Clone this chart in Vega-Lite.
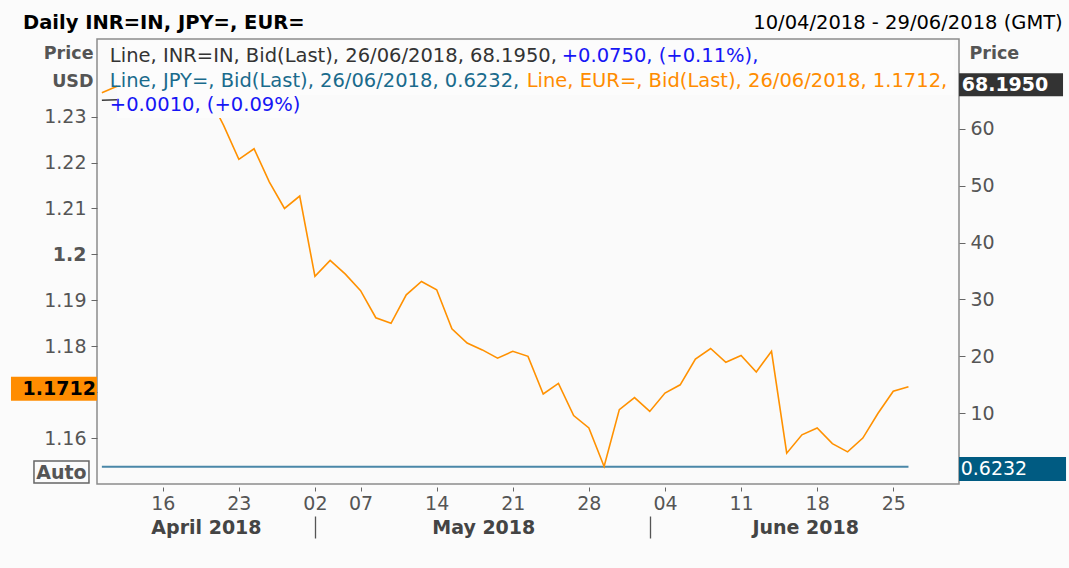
{
 "$schema": "https://vega.github.io/schema/vega-lite/v6.json",
 "width": 862,
 "height": 445,
 "autosize": {"type": "none"},
 "padding": {"left": 97, "top": 39, "right": 110, "bottom": 84},
 "background": "#fbfbfb",
 "config": {
  "font": "DejaVu Sans",
  "view": {"stroke": "#8c8c8c", "strokeWidth": 1.5, "fill": "#fafafa"},
  "axis": {"grid": false, "labelFont": "DejaVu Sans", "titleFont": "DejaVu Sans"}
 },
 "data": {"values": [
  {"date": "2018-04-10", "EUR": 1.2352, "INR": 65.02, "JPY": 0.6218},
  {"date": "2018-04-11", "EUR": 1.2366, "INR": 65.10, "JPY": 0.6225},
  {"date": "2018-04-12", "EUR": 1.2328, "INR": 65.15, "JPY": 0.6221},
  {"date": "2018-04-13", "EUR": 1.2330, "INR": 65.11, "JPY": 0.6219},
  {"date": "2018-04-16", "EUR": 1.2380, "INR": 65.40, "JPY": 0.6228},
  {"date": "2018-04-17", "EUR": 1.2370, "INR": 65.60, "JPY": 0.6230},
  {"date": "2018-04-18", "EUR": 1.2372, "INR": 65.75, "JPY": 0.6226},
  {"date": "2018-04-19", "EUR": 1.2346, "INR": 65.90, "JPY": 0.6222},
  {"date": "2018-04-20", "EUR": 1.2281, "INR": 66.10, "JPY": 0.6214},
  {"date": "2018-04-23", "EUR": 1.2207, "INR": 66.30, "JPY": 0.6205},
  {"date": "2018-04-24", "EUR": 1.2230, "INR": 66.40, "JPY": 0.6208},
  {"date": "2018-04-25", "EUR": 1.2158, "INR": 66.55, "JPY": 0.6199},
  {"date": "2018-04-26", "EUR": 1.2100, "INR": 66.70, "JPY": 0.6192},
  {"date": "2018-04-27", "EUR": 1.2127, "INR": 66.60, "JPY": 0.6197},
  {"date": "2018-05-02", "EUR": 1.1952, "INR": 66.75, "JPY": 0.6180},
  {"date": "2018-05-03", "EUR": 1.1987, "INR": 66.80, "JPY": 0.6186},
  {"date": "2018-05-04", "EUR": 1.1957, "INR": 66.85, "JPY": 0.6182},
  {"date": "2018-05-07", "EUR": 1.1921, "INR": 67.00, "JPY": 0.6177},
  {"date": "2018-05-08", "EUR": 1.1862, "INR": 67.20, "JPY": 0.6170},
  {"date": "2018-05-09", "EUR": 1.1850, "INR": 67.40, "JPY": 0.6168},
  {"date": "2018-05-10", "EUR": 1.1912, "INR": 67.45, "JPY": 0.6175},
  {"date": "2018-05-11", "EUR": 1.1941, "INR": 67.35, "JPY": 0.6179},
  {"date": "2018-05-14", "EUR": 1.1923, "INR": 67.60, "JPY": 0.6176},
  {"date": "2018-05-15", "EUR": 1.1838, "INR": 67.95, "JPY": 0.6166},
  {"date": "2018-05-16", "EUR": 1.1807, "INR": 68.10, "JPY": 0.6162},
  {"date": "2018-05-17", "EUR": 1.1792, "INR": 68.05, "JPY": 0.6160},
  {"date": "2018-05-18", "EUR": 1.1774, "INR": 68.00, "JPY": 0.6158},
  {"date": "2018-05-21", "EUR": 1.1789, "INR": 68.25, "JPY": 0.6160},
  {"date": "2018-05-22", "EUR": 1.1778, "INR": 68.20, "JPY": 0.6159},
  {"date": "2018-05-23", "EUR": 1.1696, "INR": 68.35, "JPY": 0.6150},
  {"date": "2018-05-24", "EUR": 1.1719, "INR": 68.10, "JPY": 0.6153},
  {"date": "2018-05-25", "EUR": 1.1649, "INR": 67.80, "JPY": 0.6145},
  {"date": "2018-05-28", "EUR": 1.1622, "INR": 67.55, "JPY": 0.6142},
  {"date": "2018-05-29", "EUR": 1.1538, "INR": 67.40, "JPY": 0.6133},
  {"date": "2018-05-30", "EUR": 1.1662, "INR": 67.40, "JPY": 0.6147},
  {"date": "2018-05-31", "EUR": 1.1688, "INR": 67.45, "JPY": 0.6150},
  {"date": "2018-06-01", "EUR": 1.1658, "INR": 67.10, "JPY": 0.6146},
  {"date": "2018-06-04", "EUR": 1.1698, "INR": 67.15, "JPY": 0.6151},
  {"date": "2018-06-05", "EUR": 1.1716, "INR": 67.20, "JPY": 0.6153},
  {"date": "2018-06-06", "EUR": 1.1772, "INR": 66.95, "JPY": 0.6160},
  {"date": "2018-06-07", "EUR": 1.1795, "INR": 67.10, "JPY": 0.6163},
  {"date": "2018-06-08", "EUR": 1.1765, "INR": 67.45, "JPY": 0.6159},
  {"date": "2018-06-11", "EUR": 1.1780, "INR": 67.55, "JPY": 0.6161},
  {"date": "2018-06-12", "EUR": 1.1744, "INR": 67.60, "JPY": 0.6157},
  {"date": "2018-06-13", "EUR": 1.1789, "INR": 67.85, "JPY": 0.6162},
  {"date": "2018-06-14", "EUR": 1.1567, "INR": 67.95, "JPY": 0.6186},
  {"date": "2018-06-15", "EUR": 1.1607, "INR": 68.05, "JPY": 0.6201},
  {"date": "2018-06-18", "EUR": 1.1622, "INR": 68.15, "JPY": 0.6209},
  {"date": "2018-06-19", "EUR": 1.1588, "INR": 68.35, "JPY": 0.6215},
  {"date": "2018-06-20", "EUR": 1.1570, "INR": 68.50, "JPY": 0.6212},
  {"date": "2018-06-21", "EUR": 1.1600, "INR": 68.30, "JPY": 0.6218},
  {"date": "2018-06-22", "EUR": 1.1654, "INR": 67.90, "JPY": 0.6224},
  {"date": "2018-06-25", "EUR": 1.1702, "INR": 68.12, "JPY": 0.6226},
  {"date": "2018-06-26", "EUR": 1.1712, "INR": 68.195, "JPY": 0.6232}
 ]},
 "layer": [
  {
   "layer": [
    {
     "mark": {"type": "line", "color": "#4a87a8", "strokeWidth": 2},
     "encoding": {
      "x": {"field": "date", "type": "ordinal", "axis": {
        "orient": "bottom", "title": null, "domain": false, "offset": 32, "tickSize": 22, "tickColor": "#555555", "tickWidth": 1.3,
        "values": ["2018-05-02", "2018-06-01", "2018-06-29"],
        "labelExpr": "datum.value == '2018-05-02' ? 'April 2018' : (datum.value == '2018-06-01' ? 'May 2018' : 'June 2018')",
        "labelOffset": {"condition": [{"test": "datum.value == '2018-05-02'", "value": -109}, {"test": "datum.value == '2018-06-01'", "value": -166.5}], "value": -149},
        "tickOpacity": {"condition": {"test": "datum.value == '2018-06-29'", "value": 0}, "value": 1},
        "labelAngle": 0, "labelBaseline": "middle", "labelPadding": -11, "labelFontSize": 19, "labelFontWeight": "bold", "labelColor": "#444444",
        "labelOverlap": false, "labelFlush": false, "labelBound": false
      }},
      "y": {"field": "JPY", "type": "quantitative", "scale": {"domain": [-2.43, 75.78], "nice": false, "zero": false}, "axis": {
        "orient": "right", "values": [10, 20, 30, 40, 50, 60], "domain": false, "tickSize": 6, "tickColor": "#666666",
        "labelFontSize": 19, "labelColor": "#555555", "labelPadding": 5,
        "title": ["Price", "USD"], "titleAngle": 0, "titleAlign": "left", "titleBaseline": "middle", "titleX": 10, "titleY": 14,
        "titleFontSize": 17.5, "titleFontWeight": "bold", "titleColor": "#555555", "titleLineHeight": 28
      }}
     }
    },
    {
     "mark": {"type": "line", "color": "#3a3a3a", "strokeWidth": 1.5},
     "encoding": {"x": {"field": "date", "type": "ordinal"}, "y": {"field": "INR", "type": "quantitative"}}
    },
    {
     "transform": [{"filter": "datum.date == '2018-06-26'"}],
     "mark": {"type": "point", "shape": "M4.9,-8.8H108.9V14.2H4.9Z", "size": 4, "filled": true, "color": "#333333", "opacity": 1, "strokeWidth": 0},
     "encoding": {"x": {"datum": "2018-06-29", "type": "ordinal"}, "y": {"field": "INR", "type": "quantitative"}}
    },
    {
     "transform": [{"filter": "datum.date == '2018-06-26'"}],
     "mark": {"type": "text", "align": "left", "baseline": "middle", "dx": 7.6, "dy": 2.7, "fontSize": 19, "fontWeight": "bold", "color": "#ffffff"},
     "encoding": {"x": {"datum": "2018-06-29", "type": "ordinal"}, "y": {"field": "INR", "type": "quantitative"}, "text": {"field": "INR", "type": "quantitative", "format": ".4f"}}
    },
    {
     "transform": [{"filter": "datum.date == '2018-06-26'"}],
     "mark": {"type": "point", "shape": "M4.9,-9.6H111.9V14.4H4.9Z", "size": 4, "filled": true, "color": "#005b82", "opacity": 1, "strokeWidth": 0},
     "encoding": {"x": {"datum": "2018-06-29", "type": "ordinal"}, "y": {"field": "JPY", "type": "quantitative"}}
    },
    {
     "transform": [{"filter": "datum.date == '2018-06-26'"}],
     "mark": {"type": "text", "align": "left", "baseline": "middle", "dx": 6.6, "dy": 2.4, "fontSize": 19, "color": "#ffffff"},
     "encoding": {"x": {"datum": "2018-06-29", "type": "ordinal"}, "y": {"field": "JPY", "type": "quantitative"}, "text": {"field": "JPY", "type": "quantitative", "format": ".4f"}}
    }
   ]
  },
  {
   "layer": [
    {
     "mark": {"type": "line", "color": "#ff9100", "strokeWidth": 1.6},
     "encoding": {
      "x": {"field": "date", "type": "ordinal", "scale": {"type": "point", "padding": 0.32, "domain": ["2018-04-10","2018-04-11","2018-04-12","2018-04-13","2018-04-16","2018-04-17","2018-04-18","2018-04-19","2018-04-20","2018-04-23","2018-04-24","2018-04-25","2018-04-26","2018-04-27","2018-05-02","2018-05-03","2018-05-04","2018-05-07","2018-05-08","2018-05-09","2018-05-10","2018-05-11","2018-05-14","2018-05-15","2018-05-16","2018-05-17","2018-05-18","2018-05-21","2018-05-22","2018-05-23","2018-05-24","2018-05-25","2018-05-28","2018-05-29","2018-05-30","2018-05-31","2018-06-01","2018-06-04","2018-06-05","2018-06-06","2018-06-07","2018-06-08","2018-06-11","2018-06-12","2018-06-13","2018-06-14","2018-06-15","2018-06-18","2018-06-19","2018-06-20","2018-06-21","2018-06-22","2018-06-25","2018-06-26","2018-06-27","2018-06-28","2018-06-29"]},
       "axis": {
        "orient": "bottom", "title": null, "domain": false, "offset": 3, "tickSize": 4, "tickColor": "#666666",
        "values": ["2018-04-16","2018-04-23","2018-05-02","2018-05-07","2018-05-14","2018-05-21","2018-05-28","2018-06-04","2018-06-11","2018-06-18","2018-06-25"],
        "labelExpr": "substring(datum.value, 8, 10)",
        "labelAngle": 0, "labelBaseline": "middle", "labelPadding": 12, "labelFontSize": 19, "labelColor": "#555555",
        "labelOverlap": false, "labelFlush": false, "labelBound": false
       }},
      "y": {"field": "EUR", "type": "quantitative", "scale": {"domain": [1.15, 1.2469], "nice": false, "zero": false}, "axis": {
        "orient": "left", "values": [1.16, 1.17, 1.18, 1.19, 1.2, 1.21, 1.22, 1.23], "domain": false, "tickSize": 6, "tickColor": "#666666",
        "labelExpr": "'' + datum.value",
        "labelFontSize": 19, "labelColor": "#555555", "labelPadding": 5,
        "labelFontWeight": {"condition": {"test": "datum.value == 1.2", "value": "bold"}, "value": "normal"},
        "title": ["Price", "USD"], "titleAngle": 0, "titleAlign": "right", "titleBaseline": "middle", "titleX": -4, "titleY": 14,
        "titleFontSize": 17.5, "titleFontWeight": "bold", "titleColor": "#555555", "titleLineHeight": 28
      }}
     }
    },
    {
     "transform": [{"filter": "datum.date == '2018-06-26'"}],
     "mark": {"type": "rect", "color": "#fcfcfc"},
     "encoding": {"x": {"datum": "2018-04-11", "type": "ordinal"}, "x2": {"datum": "2018-06-29"}, "y": {"datum": 1.2466, "type": "quantitative"}, "y2": {"datum": 1.23471}}
    },
    {
     "transform": [{"filter": "datum.date == '2018-06-26'"}],
     "mark": {"type": "rect", "color": "#fcfcfc"},
     "encoding": {"x": {"datum": "2018-04-11", "type": "ordinal"}, "x2": {"datum": "2018-04-27"}, "y": {"datum": 1.23471, "type": "quantitative"}, "y2": {"datum": 1.2297}}
    },
    {
     "transform": [{"filter": "datum.date == '2018-06-26'"}],
     "mark": {"type": "text", "align": "left", "baseline": "alphabetic", "dx": 8, "fontSize": 19.5, "color": "#333333", "text": "Line, INR=IN, Bid(Last), 26/06/2018, 68.1950, "},
     "encoding": {"x": {"datum": "2018-04-10", "type": "ordinal"}, "y": {"datum": 1.24189, "type": "quantitative"}}
    },
    {
     "transform": [{"filter": "datum.date == '2018-06-26'"}],
     "mark": {"type": "text", "align": "left", "baseline": "alphabetic", "dx": 3.3, "fontSize": 19.5, "color": "#1616f5", "text": "+0.0750, (+0.11%),"},
     "encoding": {"x": {"datum": "2018-05-24", "type": "ordinal"}, "y": {"datum": 1.24189, "type": "quantitative"}}
    },
    {
     "transform": [{"filter": "datum.date == '2018-06-26'"}],
     "mark": {"type": "text", "align": "left", "baseline": "alphabetic", "dx": 8, "fontSize": 19.5, "color": "#1a6b8c", "text": "Line, JPY=, Bid(Last), 26/06/2018, 0.6232, "},
     "encoding": {"x": {"datum": "2018-04-10", "type": "ordinal"}, "y": {"datum": 1.23645, "type": "quantitative"}}
    },
    {
     "transform": [{"filter": "datum.date == '2018-06-26'"}],
     "mark": {"type": "text", "align": "left", "baseline": "alphabetic", "dx": -1.3, "fontSize": 19.5, "color": "#ff8c00", "text": "Line, EUR=, Bid(Last), 26/06/2018, 1.1712,"},
     "encoding": {"x": {"datum": "2018-05-22", "type": "ordinal"}, "y": {"datum": 1.23645, "type": "quantitative"}}
    },
    {
     "transform": [{"filter": "datum.date == '2018-06-26'"}],
     "mark": {"type": "text", "align": "left", "baseline": "alphabetic", "dx": 8, "fontSize": 19.5, "color": "#1616f5", "text": "+0.0010, (+0.09%)"},
     "encoding": {"x": {"datum": "2018-04-10", "type": "ordinal"}, "y": {"datum": 1.23112, "type": "quantitative"}}
    },
    {
     "transform": [{"filter": "datum.date == '2018-06-26'"}],
     "mark": {"type": "point", "shape": "M-90.9,-9.8H-4.9V14.2H-90.9Z", "size": 4, "filled": true, "color": "#ff8c00", "opacity": 1, "strokeWidth": 0},
     "encoding": {"x": {"datum": "2018-04-10", "type": "ordinal"}, "y": {"field": "EUR", "type": "quantitative"}}
    },
    {
     "transform": [{"filter": "datum.date == '2018-06-26'"}],
     "mark": {"type": "text", "align": "right", "baseline": "middle", "dx": -6, "dy": 2, "fontSize": 19, "fontWeight": "bold", "color": "#000000"},
     "encoding": {"x": {"datum": "2018-04-10", "type": "ordinal"}, "y": {"field": "EUR", "type": "quantitative"}, "text": {"field": "EUR", "type": "quantitative", "format": ".4f"}}
    },
    {
     "transform": [{"filter": "datum.date == '2018-06-26'"}],
     "mark": {"type": "point", "shape": "M-67.9,-23H-12.9V-1H-67.9Z", "size": 4, "filled": false, "color": "#666666", "opacity": 1, "strokeWidth": 1.5},
     "encoding": {"x": {"datum": "2018-04-10", "type": "ordinal"}, "y": {"datum": 1.15, "type": "quantitative"}}
    },
    {
     "transform": [{"filter": "datum.date == '2018-06-26'"}],
     "mark": {"type": "text", "align": "center", "baseline": "middle", "dx": -40.4, "dy": -11, "fontSize": 19, "fontWeight": "bold", "color": "#555555", "text": "Auto"},
     "encoding": {"x": {"datum": "2018-04-10", "type": "ordinal"}, "y": {"datum": 1.15, "type": "quantitative"}}
    },
    {
     "transform": [{"filter": "datum.date == '2018-06-26'"}],
     "mark": {"type": "text", "align": "left", "baseline": "alphabetic", "dx": -78.9, "fontSize": 19.5, "fontWeight": "bold", "color": "#000000", "text": "Daily INR=IN, JPY=, EUR="},
     "encoding": {"x": {"datum": "2018-04-10", "type": "ordinal"}, "y": {"datum": 1.2490, "type": "quantitative"}}
    },
    {
     "transform": [{"filter": "datum.date == '2018-06-26'"}],
     "mark": {"type": "text", "align": "right", "baseline": "alphabetic", "dx": 108.6, "fontSize": 19.5, "color": "#000000", "text": "10/04/2018 - 29/06/2018 (GMT)"},
     "encoding": {"x": {"datum": "2018-06-29", "type": "ordinal"}, "y": {"datum": 1.2490, "type": "quantitative"}}
    }
   ]
  }
 ],
 "resolve": {"scale": {"y": "independent"}, "axis": {"x": "independent"}}
}
